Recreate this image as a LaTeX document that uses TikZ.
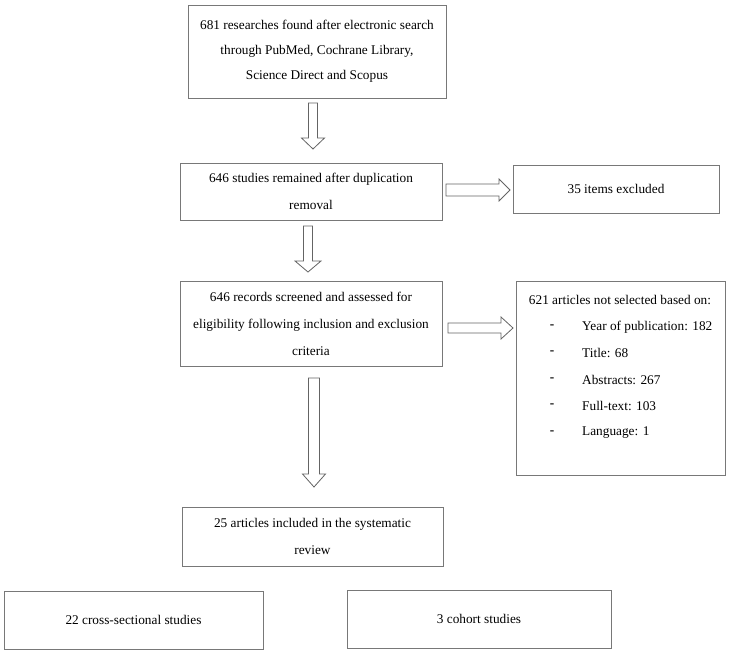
\documentclass[tikz,border=0pt]{standalone}
\usepackage{fontspec}
\setmainfont{Liberation Serif}
\definecolor{boxgray}{RGB}{120,120,120}
\definecolor{arrgray}{RGB}{100,100,100}
\newcommand{\diagfont}{\fontsize{13.3}{27}\selectfont}
\begin{document}
\begin{tikzpicture}[x=1pt,y=-1pt,
  box/.style={draw=boxgray, line width=0.9pt, fill=white, inner sep=0pt, align=center, font=\diagfont},
  lbl/.style={inner sep=0pt, font=\diagfont},
  blockarrow/.style={draw=arrgray, line width=0.8pt, fill=white, line join=miter}]
\useasboundingbox (0,0) rectangle (750,655);
% boxes
\node[box, font=\fontsize{13.3}{25}\selectfont, minimum width=258pt, minimum height=93pt] (b1) at (317,51.5)
  {681 researches found after electronic search\\through PubMed, Cochrane Library,\\Science Direct and Scopus};
\node[box, minimum width=262pt, minimum height=57pt] (b2) at (311,191.5)
  {646 studies remained after duplication\\removal};
\node[box, minimum width=206pt, minimum height=48pt] (e1) at (616,189)
  {35 items excluded};
\node[box, minimum width=262pt, minimum height=85pt] (b3) at (311,324)
  {646 records screened and assessed for\\eligibility following inclusion and exclusion\\criteria};
\node[box, minimum width=209pt, minimum height=194pt] (e2) at (620.5,378) {};
\node[lbl] (e2h) at (620,300) {621 articles not selected based on:};
\foreach \y/\t [count=\i] in {327/Year of publication: 182, 353/Title: 68, 380/Abstracts: 267, 406/Full-text: 103, 433/Language: 1}{
  \node[lbl] (d\i) at (552,\y) {\textbf{-}};
  \node[lbl, anchor=west] (it\i) at (582,\y) {\t};
}
\node[box, minimum width=261pt, minimum height=59pt] (b4) at (312.5,536.5)
  {25 articles included in the systematic\\review};
\node[box, minimum width=259pt, minimum height=58pt] (c1) at (133.5,620)
  {22 cross-sectional studies};
\node[box, minimum width=264pt, minimum height=58pt] (c2) at (479,619)
  {3 cohort studies};
% block arrows (vertical)
\draw[blockarrow] (308.5,103) -- (317.5,103) -- (317.5,138) -- (324.5,138) -- (313,149)
  -- (301.5,138) -- (308.5,138) -- cycle;
\draw[blockarrow] (303.5,226) -- (312.5,226) -- (312.5,261) -- (321,261) -- (308,272)
  -- (295,261) -- (303.5,261) -- cycle;
\draw[blockarrow] (308.5,378) -- (319.5,378) -- (319.5,474) -- (325.5,474) -- (314,487)
  -- (302.5,474) -- (308.5,474) -- cycle;
% block arrows (horizontal)
\draw[blockarrow] (446,184) -- (499,184) -- (499,179) -- (510,190) -- (499,201)
  -- (499,196) -- (446,196) -- cycle;
\draw[blockarrow] (448,323) -- (501,323) -- (501,317) -- (513,328) -- (501,339)
  -- (501,333) -- (448,333) -- cycle;
\end{tikzpicture}
\end{document}
